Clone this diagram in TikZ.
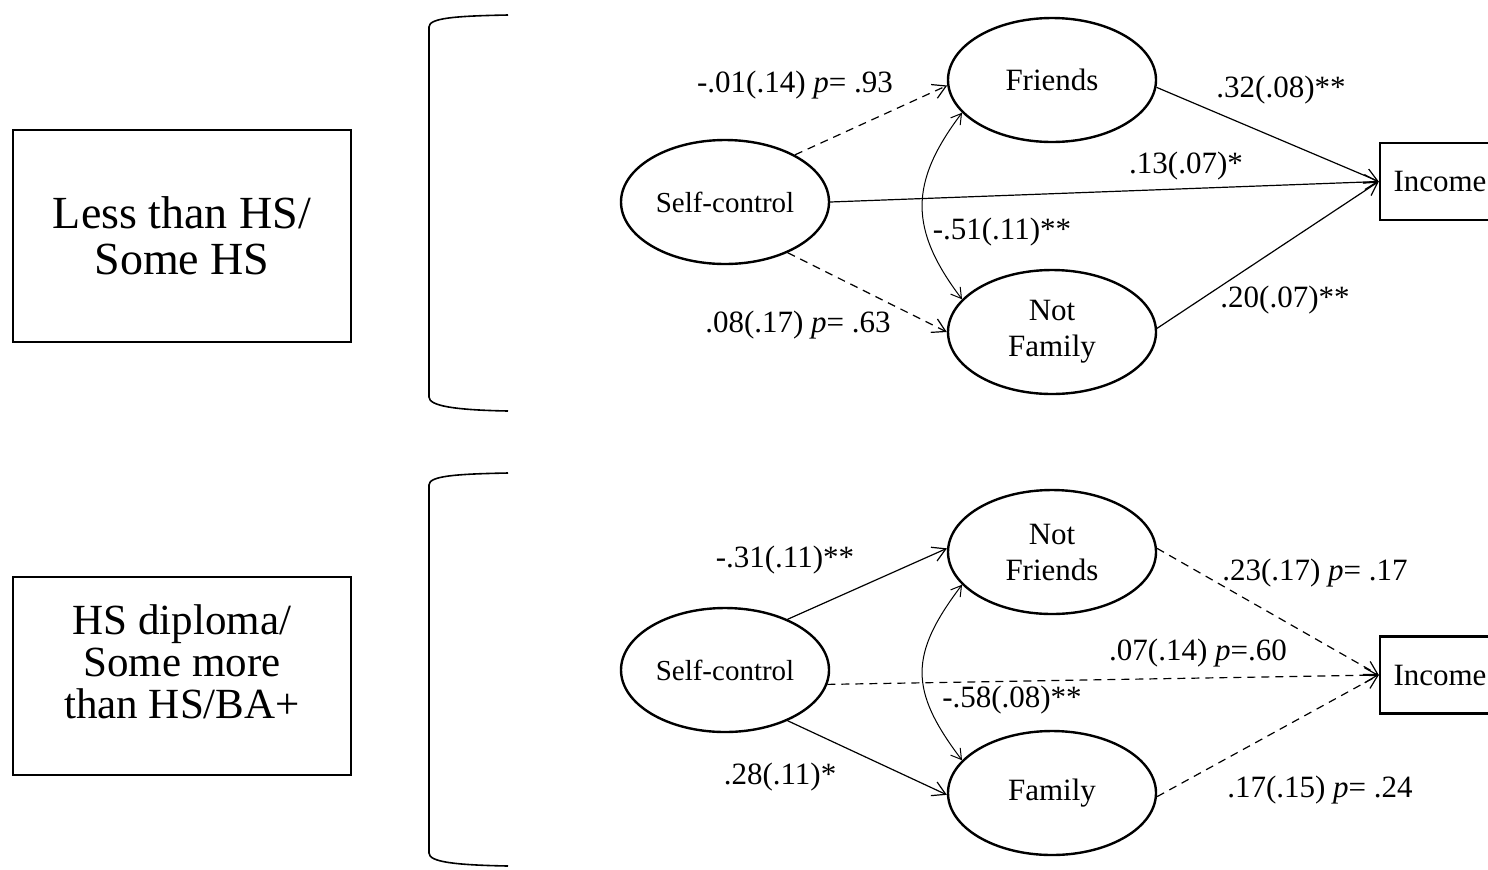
\documentclass[tikz,border=0pt]{standalone}
\usepackage{fontspec}
\setmainfont{Liberation Serif}
\usetikzlibrary{shapes.geometric,arrows.meta}
\begin{document}
\begin{tikzpicture}[x=0.5pt,y=-0.5pt,
  lat/.style={ellipse,draw,line width=1.2pt,minimum width=104pt,minimum height=62pt,inner sep=0pt,align=center,font=\fontsize{15.5}{18}\selectfont},
  grp/.style={rectangle,draw,line width=1pt,minimum width=169pt,minimum height=106pt,align=center,font=\fontsize{23}{23}\selectfont},
  grptext/.style={align=center,inner sep=0pt,font=\fontsize{21.5}{21}\selectfont},
  obs/.style={rectangle,draw,line width=1.2pt,minimum width=60pt,minimum height=38.5pt,font=\fontsize{15.5}{18}\selectfont},
  arr/.style={line width=0.6pt,-{Straight Barb[length=6.5pt,width=7.5pt]}},
  ns/.style={arr,dash pattern=on 4pt off 3pt},
  dbl/.style={line width=0.5pt,{Straight Barb[length=5pt,width=6pt]}-{Straight Barb[length=5pt,width=6pt]}},
  lbl/.style={font=\fontsize{15.5}{18}\selectfont,inner sep=0pt},
  brk/.style={line width=0.8pt}
]
\useasboundingbox (0,0) rectangle (1488,869);
\clip (0,0) rectangle (1488,869);
% group boxes
\node[grp] (g1) at (182,236) {Less than HS/\\Some HS};
\node[grp,minimum height=99pt] (g2) at (182,676) {};
\node[grptext] (g2t) at (182,662) {HS diploma/\\Some more\\than HS/BA+};
% brackets
\draw[brk] (508,15) .. controls (455,16) and (429,18) .. (429,27) -- (429,397) .. controls (429,406) and (455,410) .. (508,411);
\draw[brk] (508,473) .. controls (455,474) and (429,476) .. (429,485) -- (429,853) .. controls (429,862) and (455,865) .. (508,866);
% top model
\node[lat] (sc1) at (725,202) {\fontsize{14.5}{17}\selectfont Self-control};
\node[lat] (fr1) at (1052,80) {Friends};
\node[lat] (nf1) at (1052,332) {Not\\Family};
\node[obs] (in1) at (1440,181.5) {Income};
\draw[ns] (sc1.34) -- (fr1.183);
\draw[ns] (sc1.-39) -- (nf1.west);
\draw[arr] (sc1.east) -- (in1.west);
\draw[arr] (fr1.-4) -- (in1.west);
\draw[arr] (nf1.2) -- (in1.west);
\draw[dbl] (fr1.200) .. controls +(-53,70) and +(-53,-70) .. (nf1.160);
\node[lbl] (l1) at (795,85) {-.01(.14) \textit{p}= .93};
\node[lbl] (l2) at (1281,90) {.32(.08)**};
\node[lbl] (l3) at (1186,166) {.13(.07)*};
\node[lbl] (l4) at (1002,232) {-.51(.11)**};
\node[lbl] (l5) at (798,325) {.08(.17) \textit{p}= .63};
\node[lbl] (l6) at (1285,300) {.20(.07)**};
% bottom model
\node[lat] (sc2) at (725,670) {\fontsize{14.5}{17}\selectfont Self-control};
\node[lat] (nfr2) at (1052,552) {Not\\Friends};
\node[lat] (fa2) at (1052,793) {Family};
\node[obs] (in2) at (1440,675) {Income};
\draw[arr] (sc2.39) -- (nfr2.178);
\draw[arr] (sc2.-39) -- (fa2.181);
\draw[ns] (sc2.-8) -- (in2.west);
\draw[ns] (nfr2.2) -- (in2.west);
\draw[ns] (fa2.-2) -- (in2.west);
\draw[dbl] (nfr2.200) .. controls +(-53,70) and +(-53,-70) .. (fa2.160);
\node[lbl] (l7) at (785,560) {-.31(.11)**};
\node[lbl] (l8) at (1315,573) {.23(.17) \textit{p}= .17};
\node[lbl] (l9) at (1198,653) {.07(.14) \textit{p}=.60};
\node[lbl] (l10) at (1012,700) {-.58(.08)**};
\node[lbl] (l11) at (780,777) {.28(.11)*};
\node[lbl] (l12) at (1320,790) {.17(.15) \textit{p}= .24};
\end{tikzpicture}
\end{document}
